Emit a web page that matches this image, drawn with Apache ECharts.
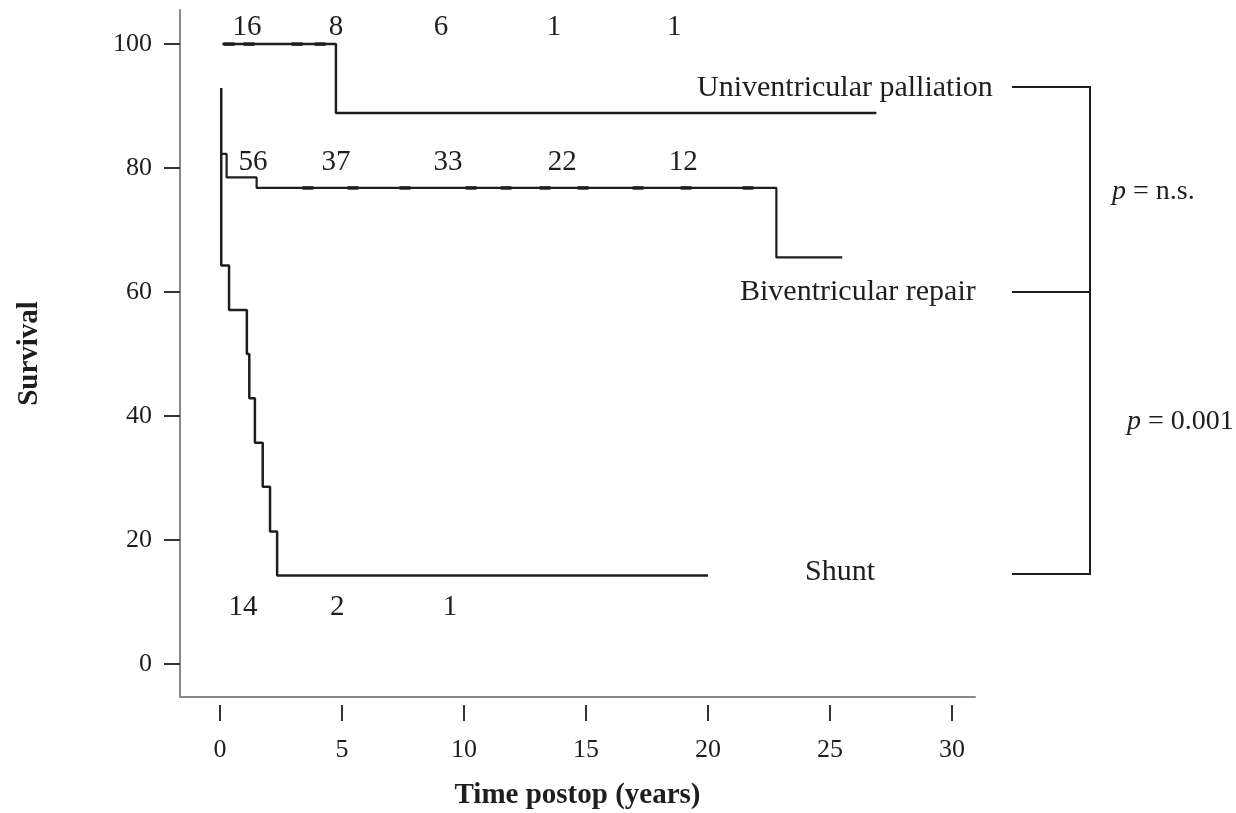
<!DOCTYPE html>
<html>
<head>
<meta charset="utf-8">
<script src="https://cdn.jsdelivr.net/npm/echarts@6/dist/echarts.min.js"></script>
<style>
  html, body { margin: 0; padding: 0; background: #fff; }
  #main { width: 1236px; height: 813px; }
</style>
</head>
<body>
<div id="main"></div>
<script>
// tick values
var xTicks = [0, 5, 10, 15, 20, 25, 30];
var yTicks = [0, 20, 40, 60, 80, 100];

// survival steps [years, %]
var univentricular = [[0.1, 100], [4.75, 88.9], [26.9, 88.9]];
var biventricular = [[0.05, 82.3], [0.27, 78.5], [1.5, 76.8], [22.8, 65.6], [25.5, 65.6]];
var shunt = [[0.05, 92.9], [0.05, 64.3], [0.37, 57.1], [1.1, 50], [1.2, 42.9], [1.43, 35.7],
             [1.75, 28.6], [2.05, 21.4], [2.34, 14.3], [20, 14.3]];

// censored observations
var univCensor = [[0.37, 100], [1.19, 100], [3.16, 100], [4.1, 100]];
var bivCensor = [[3.6, 76.8], [5.45, 76.8], [7.58, 76.8], [10.29, 76.8], [11.72, 76.8],
                 [13.32, 76.8], [14.88, 76.8], [17.13, 76.8], [19.1, 76.8], [21.64, 76.8]];

// numbers at risk [years, y position, count]
var univAtRisk = [[1.11, 102.7, '16'], [4.75, 102.7, '8'], [9.06, 102.7, '6'], [13.69, 102.7, '1'], [18.61, 102.7, '1']];
var bivAtRisk = [[1.35, 81, '56'], [4.75, 81, '37'], [9.34, 81, '33'], [14.02, 81, '22'], [18.98, 81, '12']];
var shuntAtRisk = [[0.94, 9.2, '14'], [4.8, 9.2, '2'], [9.43, 9.2, '1']];

var FONT = '"Liberation Serif", "DejaVu Serif", serif';
var INK = '#1e1e1e';

var myChart = echarts.init(document.getElementById('main'));

function curve(name, data, w) {
    return {
        name: name, type: 'line', step: 'end', data: data,
        showSymbol: false, silent: true,
        lineStyle: { color: INK, width: w }
    };
}
function censor(data) {
    return {
        type: 'scatter', data: data, symbol: 'rect', symbolSize: [11, 3.5],
        itemStyle: { color: INK, opacity: 1 }, silent: true
    };
}
function atRisk(data) {
    return {
        type: 'scatter', data: data, symbolSize: 1, silent: true,
        itemStyle: { color: 'rgba(0,0,0,0)', opacity: 1 },
        label: {
            show: true, position: 'inside', color: INK, textBorderWidth: 0,
            fontFamily: FONT, fontSize: 29,
            formatter: function (p) { return p.value[2]; }
        }
    };
}

var option = {
    animation: false,
    grid: { left: 180, right: 261, top: 10, bottom: 116, outerBoundsMode: 'none', containLabel: false },
    xAxis: [{
        type: 'value', min: -1.64, max: 30.94,
        axisLine: { show: true, onZero: false, lineStyle: { color: '#8a8a8a', width: 2 } },
        axisTick: { show: false }, axisLabel: { show: false }, splitLine: { show: false },
        name: 'Time postop (years)', nameLocation: 'middle', nameGap: 84,
        nameTextStyle: { fontFamily: FONT, fontSize: 29, fontWeight: 'bold', color: INK }
    }, {
        type: 'value', min: -1.64, max: 30.94, position: 'bottom', offset: 8,
        axisLine: { show: false, onZero: false },
        axisTick: { show: true, length: 16, customValues: xTicks, lineStyle: { color: '#333', width: 2 } },
        axisLabel: { show: true, customValues: xTicks, margin: 32, fontFamily: FONT, fontSize: 26, color: INK },
        splitLine: { show: false }
    }],
    yAxis: {
        type: 'value', min: -5.3, max: 105.5,
        axisLine: { show: true, onZero: false, lineStyle: { color: '#8a8a8a', width: 2 } },
        axisTick: { show: true, length: 16, customValues: yTicks, lineStyle: { color: '#333', width: 2 } },
        axisLabel: { show: true, customValues: yTicks, margin: 28, fontFamily: FONT, fontSize: 26, color: INK },
        splitLine: { show: false },
        name: 'Survival', nameLocation: 'middle', nameGap: 136,
        nameTextStyle: { fontFamily: FONT, fontSize: 29, fontWeight: 'bold', color: INK }
    },
    series: [
        curve('Univentricular palliation', univentricular, 2.5),
        curve('Biventricular repair', biventricular, 2.2),
        curve('Shunt', shunt, 2.5),
        censor(univCensor),
        censor(bivCensor),
        atRisk(univAtRisk),
        atRisk(bivAtRisk),
        atRisk(shuntAtRisk)
    ],
    graphic: [
        { type: 'text', left: 697, top: 73, style: { text: 'Univentricular palliation', font: '30px ' + FONT, fill: INK } },
        { type: 'text', left: 740, top: 277, style: { text: 'Biventricular repair', font: '30px ' + FONT, fill: INK } },
        { type: 'text', left: 805, top: 557, style: { text: 'Shunt', font: '30px ' + FONT, fill: INK } },
        { type: 'polyline', shape: { points: [[1012, 87], [1090, 87], [1090, 574], [1012, 574]] },
          style: { stroke: INK, lineWidth: 2, fill: null } },
        { type: 'line', shape: { x1: 1012, y1: 292, x2: 1090, y2: 292 }, style: { stroke: INK, lineWidth: 2 } },
        { type: 'text', left: 1112, top: 178, style: { text: '{i|p} = n.s.', font: '28px ' + FONT, fill: INK,
          rich: { i: { fontStyle: 'italic', fontFamily: FONT, fontSize: 28 } } } },
        { type: 'text', left: 1127, top: 408, style: { text: '{i|p} = 0.001', font: '28px ' + FONT, fill: INK,
          rich: { i: { fontStyle: 'italic', fontFamily: FONT, fontSize: 28 } } } }
    ]
};

myChart.setOption(option);
</script>
</body>
</html>
